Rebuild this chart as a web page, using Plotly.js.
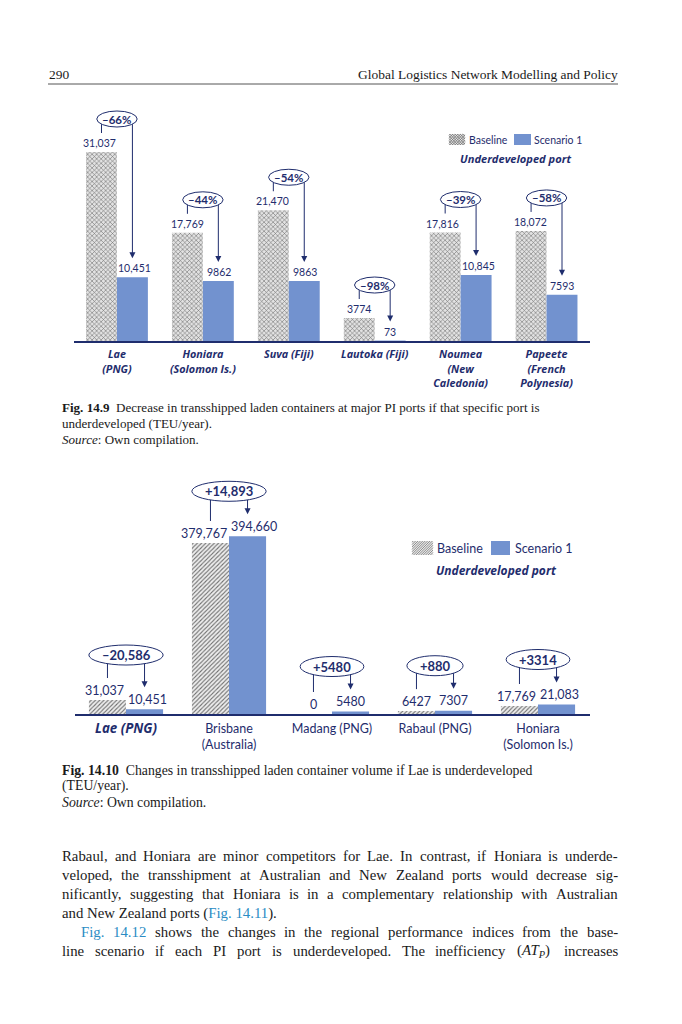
<!DOCTYPE html>
<html><head><meta charset="utf-8">
<script src="https://cdn.plot.ly/plotly-3.0.1.min.js"></script>
<style>html,body{margin:0;padding:0;background:#fff}#page{width:682px;height:1024px}</style>
</head><body><div id="page"></div>
<script>
// ---------------- data ----------------
const ports1 = ['Lae (PNG)', 'Honiara (Solomon Is.)', 'Suva (Fiji)', 'Lautoka (Fiji)', 'Noumea (New Caledonia)', 'Papeete (French Polynesia)'];
const ports1Labels = ['Lae<br>(PNG)', 'Honiara<br>(Solomon Is.)', 'Suva (Fiji)', 'Lautoka (Fiji)', 'Noumea<br>(New<br>Caledonia)', 'Papeete<br>(French<br>Polynesia)'];
const baseline1 = [31037, 17769, 21470, 3774, 17816, 18072];
const scenario1 = [10451, 9862, 9863, 73, 10845, 7593];

const ports2 = ['Lae (PNG)', 'Brisbane (Australia)', 'Madang (PNG)', 'Rabaul (PNG)', 'Honiara (Solomon Is.)'];
const ports2Labels = ['Lae (PNG)', 'Brisbane<br>(Australia)', 'Madang (PNG)', 'Rabaul (PNG)', 'Honiara<br>(Solomon Is.)'];
const highlighted2 = 'Lae (PNG)';
const baseline2 = [31037, 379767, 0, 6427, 17769];
const scenario2 = [10451, 394660, 5480, 7307, 21083];

const seriesNames = ['Baseline', 'Scenario 1'];
const legendSubtitle = 'Underdeveloped port';

// ---------------- page setup ----------------
const W = 682, H = 1024;
const NAVY = '#1f2d6d', BLUE = '#7292cf', LINK = '#2a8cc4', INK = '#1a1a1a';
const SANS = 'Lato, "Open Sans", sans-serif';
const BI = '"Open Sans", Lato, sans-serif';
const SERIF = '"Liberation Serif", "Times New Roman", serif';
const PX = x => x / W, PY = y => 1 - y / H;

const cv = document.createElement('canvas').getContext('2d');
function tw(s, font) { cv.font = font; return cv.measureText(s).width; }
const biAt = s => `italic bold ${s}px "Open Sans"`;
const fitBI = (s, target) => 12 * target / tw(s, biAt(12));

const fmt = v => v >= 10000 ? v.toLocaleString('en-US') : String(v);
const pctLabel = (b, s) => { const r = Math.round((s / b - 1) * 100); return (r < 0 ? '\u2013' : '+') + Math.abs(r) + '%'; };
const diffLabel = (b, s) => { const d = s - b; return (d < 0 ? '\u2013' : '+') + fmt(Math.abs(d)); };

const C1 = {xa: 'x', ya: 'y', xL: 74, xR: 589.5, yT: 100, yB: 341, upp: 31037 / 189, n: ports1.length,
  fs: 10.5, lbl: 9, clear: 19, ellOff: 33, ellH: 16, efs: 11.5, ePad: 11};
const C2 = {xa: 'x2', ya: 'y2', xL: 74.5, xR: 589.5, yT: 475, yB: 714, upp: 379767 / 171, n: ports2.length,
  fs: 12.5, lbl: 10, clear: 22, ellOff: 45, ellH: 20, efs: 13, ePad: 26};

function barTraces(c, cats, base, scen, pat) {
  return [
    {type: 'bar', name: seriesNames[0], x: cats, y: base, xaxis: c.xa, yaxis: c.ya, showlegend: false, hoverinfo: 'skip',
     marker: {color: pat.bg, line: {width: 0}, pattern: {shape: pat.shape, fgcolor: pat.fg, bgcolor: pat.bg, size: pat.size, solidity: pat.solidity}}},
    {type: 'bar', name: seriesNames[1], x: cats, y: scen, xaxis: c.xa, yaxis: c.ya, showlegend: false, hoverinfo: 'skip',
     marker: {color: BLUE, line: {width: 0}}}
  ];
}

function axes(c, cats, labels, tickfont, standoff) {
  return [
    {domain: [PX(c.xL), PX(c.xR)], type: 'category', range: [-0.5, c.n - 0.5], anchor: c.ya, showline: true,
     linecolor: NAVY, linewidth: 1.5, ticks: '', tickvals: cats, ticktext: labels, tickfont: tickfont,
     ticklabelstandoff: standoff, showgrid: false, zeroline: false, fixedrange: true},
    {domain: [PY(c.yB), PY(c.yT)], range: [0, (c.yB - c.yT) * c.upp], anchor: c.xa, visible: false, fixedrange: true}
  ];
}

const shapes = [], annos = [];

function decorate(c, base, scen, changeLabel) {
  const o = 0.18;
  const barPx = (c.xR - c.xL) / c.n * 2 * o;
  const efont = `bold ${c.efs}px Lato`, vfont = `${c.fs}px Lato`;
  const ellShapes = [];
  base.forEach((b, i) => {
    const s = scen[i], top = Math.max(b, s);
    const ref = {xref: c.xa, yref: c.ya};
    const wb = tw(fmt(b), vfont), ws = tw(fmt(s), vfont);
    const push = Math.max(0, (wb + ws) / 2 + 3 - barPx) / 2;
    [[i - o, b, -push], [i + o, s, push]].forEach(([x, v, dx]) => annos.push({...ref, x: x, y: v, text: fmt(v), showarrow: false,
      yanchor: 'middle', yshift: c.lbl, xshift: dx, font: {family: SANS, size: c.fs, color: NAVY}}));
    shapes.push({type: 'line', ...ref, x0: i - o, x1: i - o, ysizemode: 'pixel', yanchor: b,
      y0: c.clear, y1: (top - b) / c.upp + c.ellOff, line: {color: NAVY, width: 1}});
    shapes.push({type: 'line', ...ref, x0: i + o, x1: i + o, ysizemode: 'pixel', yanchor: s,
      y0: c.clear + 4, y1: (top - s) / c.upp + c.ellOff, line: {color: NAVY, width: 1}});
    shapes.push({type: 'path', ...ref, xsizemode: 'pixel', ysizemode: 'pixel', xanchor: i + o, yanchor: s,
      path: `M-3,${c.clear + 6}L3,${c.clear + 6}L0,${c.clear}Z`, fillcolor: NAVY, line: {width: 0}});
    const t = changeLabel(b, s);
    const w = tw(t, efont) + c.ePad;
    ellShapes.push({type: 'circle', ...ref, xsizemode: 'pixel', ysizemode: 'pixel', xanchor: i, yanchor: top,
      x0: -w / 2, x1: w / 2, y0: c.ellOff - c.ellH / 2, y1: c.ellOff + c.ellH / 2,
      fillcolor: '#ffffff', line: {color: NAVY, width: 1}});
    annos.push({...ref, x: i, y: top, yshift: c.ellOff, text: '<b>' + t + '</b>', showarrow: false,
      yanchor: 'middle', font: {family: SANS, size: c.efs, color: NAVY}});
  });
  ellShapes.forEach(e => shapes.push(e));
}

function hatch(x0, y0, x1, y1, step, dirs) {
  const w = x1 - x0, h = y1 - y0; let d = '';
  dirs.forEach(dir => {
    for (let c = -h + step / 2; c < w; c += step) {
      const t0 = Math.max(0, -c), t1 = Math.min(h, w - c);
      if (t1 <= t0) continue;
      const xa = x0 + c + t0, xb = x0 + c + t1;
      const ya = dir === '/' ? y1 - t0 : y0 + t0, yb = dir === '/' ? y1 - t1 : y0 + t1;
      d += `M${PX(xa)},${PY(ya)}L${PX(xb)},${PY(yb)}`;
    }
  });
  return d;
}

function txt(x, y, html, o) {
  annos.push(Object.assign({xref: 'paper', yref: 'paper', x: PX(x), y: PY(y), text: html, showarrow: false,
    xanchor: 'left', yanchor: 'middle', borderpad: 0, borderwidth: 0,
    font: {family: SERIF, size: 12, color: INK}}, o || {}));
}

function legendBlock(L) {
  shapes.push({type: 'rect', xref: 'paper', yref: 'paper', x0: PX(L.h[0]), x1: PX(L.h[2]), y0: PY(L.h[3]), y1: PY(L.h[1]),
    fillcolor: '#e6e6e6', line: {width: 0}});
  shapes.push({type: 'path', xref: 'paper', yref: 'paper', path: hatch(L.h[0], L.h[1], L.h[2], L.h[3], L.step, L.dirs),
    line: {color: '#6a6a6a', width: 0.7}});
  shapes.push({type: 'rect', xref: 'paper', yref: 'paper', x0: PX(L.b[0]), x1: PX(L.b[2]), y0: PY(L.b[3]), y1: PY(L.b[1]),
    fillcolor: BLUE, line: {width: 0}});
  const f = {family: SANS, size: L.fs, color: NAVY};
  txt(L.t1, L.ty, seriesNames[0], {font: f});
  txt(L.t2, L.ty, seriesNames[1], {font: f});
  txt(L.sx, L.sy, '<b><i>' + legendSubtitle + '</i></b>', {xanchor: 'center',
    font: {family: BI, size: fitBI(legendSubtitle, L.sw), color: NAVY}});
}

// ---------------- charts ----------------
const traces = [
  ...barTraces(C1, ports1, baseline1, scenario1, {shape: 'x', fg: '#6a6a6a', bg: '#e2e2e2', size: 3.2, solidity: 0.32}),
  ...barTraces(C2, ports2, baseline2, scenario2, {shape: '/', fg: '#6e6e6e', bg: '#eeeeee', size: 3, solidity: 0.35})
];
decorate(C1, baseline1, scenario1, pctLabel);
decorate(C2, baseline2, scenario2, diffLabel);

legendBlock({h: [449, 134, 465, 145], b: [514, 134, 531, 145], step: 2.6, dirs: ['/', '\\'],
  t1: 469, t2: 534, ty: 139.5, sx: 515.5, sy: 158, fs: 10.5, sw: 111});
legendBlock({h: [412, 541, 433, 555], b: [491, 541, 510, 555], step: 2.4, dirs: ['/'],
  t1: 437, t2: 515, ty: 548, sx: 496, sy: 570, fs: 12.5, sw: 120});

const tick1Size = fitBI('Honiara', 41);
const lae2Size = fitBI(highlighted2, 62);
const labels2 = ports2Labels.map((l, i) => ports2[i] === highlighted2
  ? `<span style="font-family:Open Sans;font-size:${lae2Size.toFixed(2)}px"><b><i>${l}</i></b></span>` : l);
const [xa1, ya1] = axes(C1, ports1, ports1Labels, {family: BI, size: tick1Size, color: NAVY, weight: 'bold', style: 'italic'}, 3);
const [xa2, ya2] = axes(C2, ports2, labels2, {family: SANS, size: 12.5, color: NAVY}, 2);

// ---------------- page text ----------------
const serifAt = s => `${s}px "Liberation Serif"`;
const boldSerifAt = s => `bold ${s}px "Liberation Serif"`;
const headSize = 12 * 260 / tw('Global Logistics Network Modelling and Policy', serifAt(12));
const bodySize = 14 * 215 / tw('and New Zealand ports (Fig. 14.11).', serifAt(14));
function capFit(label, rest, target) {
  return 12 * target / (tw(label, boldSerifAt(12)) + tw('\u00a0\u00a0' + rest, serifAt(12)));
}

txt(49, 74, '290', {font: {family: SERIF, size: headSize, color: INK}});
txt(618, 74, 'Global Logistics Network Modelling and Policy', {xanchor: 'right', font: {family: SERIF, size: headSize, color: INK}});
shapes.push({type: 'line', xref: 'paper', yref: 'paper', x0: PX(48), x1: PX(618), y0: PY(84), y1: PY(84), line: {color: '#555', width: 1}});

const captions = [
  {label: 'Fig. 14.9', l1: 'Decrease in transshipped laden containers at major PI ports if that specific port is',
   l2: 'underdeveloped (TEU/year).', w: 478, y: [407, 423, 439]},
  {label: 'Fig. 14.10', l1: 'Changes in transshipped laden container volume if Lae is underdeveloped',
   l2: '(TEU/year).', w: 471, y: [770, 786, 802]}
];
captions.forEach(c => {
  const f = {family: SERIF, size: capFit(c.label, c.l1, c.w), color: INK};
  txt(62, c.y[0], `<b>${c.label}</b>\u00a0\u00a0${c.l1}`, {font: f});
  txt(62, c.y[1], c.l2, {font: f});
  txt(62, c.y[2], '<i>Source</i>: Own compilation.', {font: f});
});

const bodyFont = {family: SERIF, size: bodySize, color: INK};
const special = {
  'Fig.*': {h: `<span style="color:${LINK}">Fig.</span>`, m: 'Fig.'},
  '14.12*': {h: `<span style="color:${LINK}">14.12</span>`, m: '14.12'},
  '(AT_P)': {h: '(<i>AT</i><sub><i>P</i></sub>)', m: '(ATP)'}
};
const bodyLines = [
  {y: 856, x: 62, j: true, t: 'Rabaul, and Honiara are minor competitors for Lae. In contrast, if Honiara is underde-'},
  {y: 875, x: 62, j: true, t: 'veloped, the transshipment at Australian and New Zealand ports would decrease sig-'},
  {y: 894, x: 62, j: true, t: 'nificantly, suggesting that Honiara is in a complementary relationship with Australian'},
  {y: 913, x: 62, j: false, t: `and New Zealand ports (<span style="color:${LINK}">Fig. 14.11</span>).`},
  {y: 932, x: 81, j: true, t: 'Fig.* 14.12* shows the changes in the regional performance indices from the base-'},
  {y: 951, x: 62, j: true, t: 'line scenario if each PI port is underdeveloped. The inefficiency (AT_P) increases'}
];
bodyLines.forEach(L => {
  if (!L.j) { txt(L.x, L.y, L.t, {font: bodyFont}); return; }
  const words = L.t.split(' ').map(w => special[w] || {h: w, m: w});
  const widths = words.map(w => tw(w.m, serifAt(bodySize)));
  const total = widths.reduce((a, b) => a + b, 0);
  const gap = (618 - L.x - total) / (words.length - 1);
  let x = L.x;
  words.forEach((w, k) => { txt(x, L.y, w.h, {font: bodyFont}); x += widths[k] + gap; });
});

const layout = {
  width: W, height: H, margin: {l: 0, r: 0, t: 0, b: 0}, paper_bgcolor: '#fff', plot_bgcolor: 'rgba(0,0,0,0)',
  showlegend: false, barmode: 'group', bargap: 0.28, bargroupgap: 0,
  xaxis: xa1, yaxis: ya1, xaxis2: xa2, yaxis2: ya2,
  shapes: shapes, annotations: annos
};
Plotly.newPlot('page', traces, layout, {staticPlot: true, displayModeBar: false});
</script></body></html>
